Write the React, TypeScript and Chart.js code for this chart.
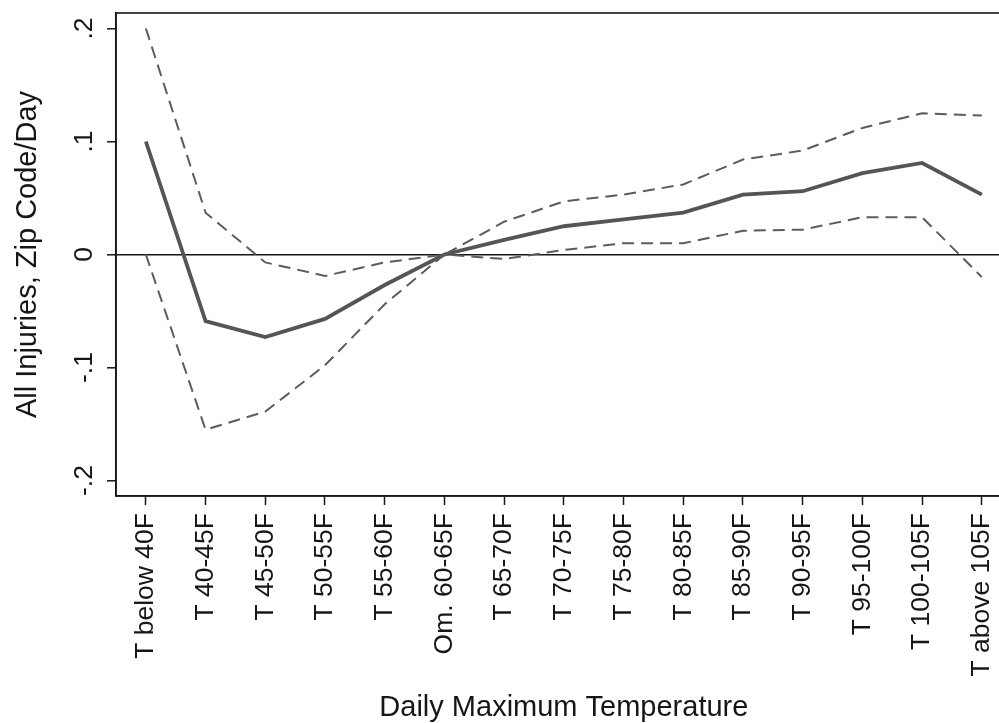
import React, { useEffect, useRef } from "react";
import { Chart, registerables } from "chart.js";

Chart.register(...registerables);

// Temperature bins (reference bin 60-65F omitted)
const categories = [
  "T below 40F",
  "T 40-45F",
  "T 45-50F",
  "T 50-55F",
  "T 55-60F",
  "Om. 60-65F",
  "T 65-70F",
  "T 70-75F",
  "T 75-80F",
  "T 80-85F",
  "T 85-90F",
  "T 90-95F",
  "T 95-100F",
  "T 100-105F",
  "T above 105F",
];

// Point estimates and 95% confidence bounds
const estimate = [0.1, -0.059, -0.073, -0.057, -0.027, 0, 0.013, 0.025, 0.031, 0.037, 0.053, 0.056, 0.072, 0.081, 0.053];
const upperCI = [0.2, 0.037, -0.007, -0.019, -0.007, 0, 0.029, 0.047, 0.053, 0.062, 0.084, 0.092, 0.112, 0.125, 0.123];
const lowerCI = [0.0, -0.155, -0.139, -0.098, -0.044, 0, -0.004, 0.004, 0.01, 0.01, 0.021, 0.022, 0.033, 0.033, -0.02];

const yTickValues = [-0.2, -0.1, 0, 0.1, 0.2];
const yTickLabels = ["-.2", "-.1", "0", ".1", ".2"];

const xTitle = "Daily Maximum Temperature";
const yTitle = "All Injuries, Zip Code/Day";

const FONT = "'Liberation Sans', Arial, Helvetica, sans-serif";
const INK = "#161616";

const framePlugin = {
  id: "plotFrame",
  afterDraw(chart: any) {
    const { ctx, chartArea } = chart;
    const { left, top, right, bottom } = chartArea;
    ctx.save();
    ctx.strokeStyle = INK;
    ctx.lineWidth = 1.6;
    ctx.strokeRect(left, top, right - left, bottom - top);
    ctx.restore();
  },
};

export default function App() {
  const canvasRef = useRef<HTMLCanvasElement | null>(null);

  useEffect(() => {
    const canvas = canvasRef.current;
    if (!canvas) return;
    const chart = new Chart(canvas, {
      type: "line",
      data: {
        labels: categories,
        datasets: [
          {
            label: "Upper bound",
            data: upperCI,
            borderColor: "#5c5c5c",
            borderWidth: 2,
            borderDash: [12, 7],
            pointRadius: 0,
            tension: 0,
            fill: false,
          },
          {
            label: "Lower bound",
            data: lowerCI,
            borderColor: "#5c5c5c",
            borderWidth: 2,
            borderDash: [12, 7],
            pointRadius: 0,
            tension: 0,
            fill: false,
          },
          {
            label: "Estimate",
            data: estimate,
            borderColor: "#555555",
            borderWidth: 3.8,
            pointRadius: 0,
            tension: 0,
            fill: false,
          },
        ],
      },
      options: {
        responsive: false,
        animation: false,
        layout: { padding: { top: 13, right: 18.3, bottom: 0, left: 0 } },
        plugins: {
          legend: { display: false },
          tooltip: { enabled: false },
        },
        scales: {
          x: {
            type: "category",
            offset: true,
            border: { display: true, color: INK, width: 1.6 },
            grid: {
              offset: false,
              drawOnChartArea: false,
              drawTicks: true,
              tickLength: 9,
              tickColor: INK,
              tickWidth: 1.5,
            },
            ticks: {
              autoSkip: false,
              minRotation: 90,
              maxRotation: 90,
              padding: 8,
              color: INK,
              font: { family: FONT, size: 26.5 },
            },
            title: {
              display: true,
              text: xTitle,
              color: INK,
              font: { family: FONT, size: 29, lineHeight: 1 },
              padding: { top: 0, bottom: 0.5 },
            },
            afterFit(scale: any) {
              scale.height = 227;
              scale.paddingLeft = 0;
              scale.paddingRight = 0;
            },
          },
          y: {
            type: "linear",
            min: -0.2137,
            max: 0.2137,
            border: { display: true, color: INK, width: 1.6 },
            grid: {
              drawTicks: true,
              tickLength: 9,
              tickColor: INK,
              tickWidth: 1.5,
              lineWidth: 1.6,
              color: (ctx: any) => (ctx.tick && ctx.tick.value === 0 ? INK : "rgba(0,0,0,0)"),
            },
            afterBuildTicks(scale: any) {
              scale.ticks = yTickValues.map((v) => ({ value: v }));
            },
            ticks: {
              minRotation: 90,
              maxRotation: 90,
              crossAlign: "center",
              padding: 7,
              color: INK,
              font: { family: FONT, size: 26.5 },
              callback: (value: any) => {
                const i = yTickValues.findIndex((v) => Math.abs(v - Number(value)) < 1e-9);
                return i >= 0 ? yTickLabels[i] : "";
              },
            },
            title: {
              display: true,
              text: yTitle,
              color: INK,
              font: { family: FONT, size: 29, lineHeight: 1 },
              padding: { top: 13.5, bottom: 0 },
            },
            afterFit(scale: any) {
              scale.width = 116;
              scale.paddingTop = 0;
              scale.paddingBottom = 0;
            },
          },
        },
      },
      plugins: [framePlugin],
    });
    return () => chart.destroy();
  }, []);

  return (
    <div
      style={{
        position: "fixed",
        left: 0,
        top: 0,
        width: 999,
        height: 723,
        overflow: "hidden",
        background: "#ffffff",
      }}
    >
      <canvas ref={canvasRef} width={1030} height={723} style={{ display: "block" }} />
    </div>
  );
}
